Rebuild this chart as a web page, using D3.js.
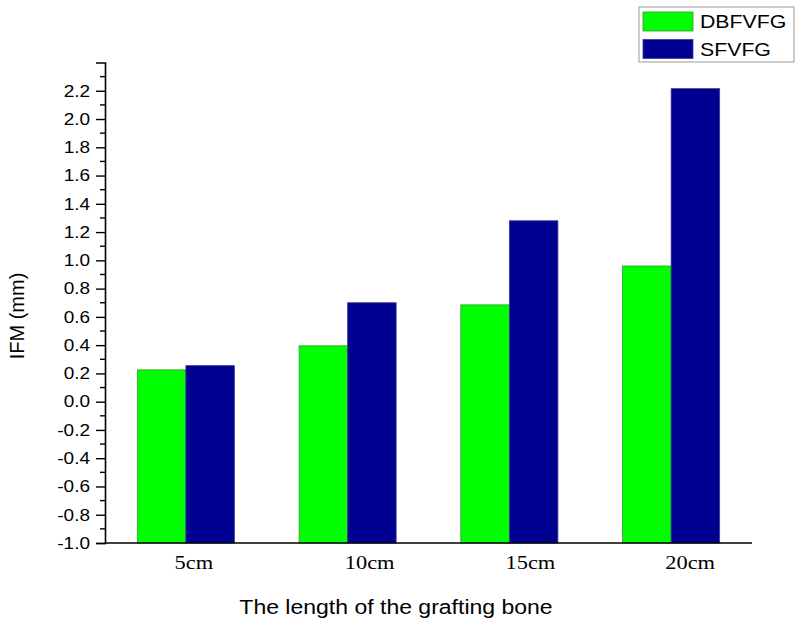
<!DOCTYPE html>
<html>
<head>
<meta charset="utf-8">
<script src="https://cdn.jsdelivr.net/npm/d3@7"></script>
<style>
  html, body { margin: 0; padding: 0; background: #fff; }
  svg { display: block; }
</style>
</head>
<body>
<svg id="chart" width="800" height="626"></svg>
<script>
const categories = ["5cm", "10cm", "15cm", "20cm"];
const seriesNames = ["DBFVFG", "SFVFG"];
const dbfvfg = [0.225, 0.395, 0.685, 0.96];
const sfvfg = [0.255, 0.70, 1.28, 2.215];
const yTicks = [-1.0, -0.8, -0.6, -0.4, -0.2, 0.0, 0.2, 0.4, 0.6, 0.8, 1.0, 1.2, 1.4, 1.6, 1.8, 2.0, 2.2];
const colors = ["#00ff00", "#000090"];
const strokes = ["#2e9a2e", "#3a3a9a"];
// style: horizontal nudges for category labels (as placed in the original)
const labelNudge = [8, 22, 21, 19];
const stretch = 1.15;

const svg = d3.select("#chart");
const mLeft = 105, mRight = 752, mTop = 62.5, mBottom = 543;

function widen(sel, k) {
  sel.each(function () {
    const w = this.getComputedTextLength();
    d3.select(this).attr("textLength", w * k).attr("lengthAdjust", "spacingAndGlyphs");
  });
}

const y = d3.scaleLinear().domain([-1.0, 2.4]).range([mBottom, mTop]);
const x = d3.scaleBand().domain(categories).range([mLeft, mRight]).paddingInner(0.4).paddingOuter(0.2);
const xs = d3.scaleBand().domain(seriesNames).range([0, x.bandwidth()]);

const data = categories.map((c, i) => ({ cat: c, vals: [dbfvfg[i], sfvfg[i]] }));

// bars
const groups = svg.append("g").selectAll("g").data(data).join("g")
  .attr("transform", d => `translate(${x(d.cat)},0)`);
groups.selectAll("rect").data(d => d.vals.map((v, k) => ({ v, k })))
  .join("rect")
  .attr("x", d => xs(seriesNames[d.k]))
  .attr("width", xs.bandwidth())
  .attr("y", d => y(d.v))
  .attr("height", d => y(-1.0) - y(d.v))
  .attr("fill", d => colors[d.k])
  .attr("stroke", d => strokes[d.k])
  .attr("stroke-width", 0.8);

// y axis
const yAxis = d3.axisLeft(y).tickValues(yTicks).tickFormat(d3.format(".1f")).tickSize(9).tickPadding(6);
const gy = svg.append("g").attr("transform", `translate(${mLeft},0)`).call(yAxis);
gy.select(".domain").attr("stroke", "#000").attr("stroke-width", 1.6);
gy.selectAll(".tick line").attr("stroke", "#000").attr("stroke-width", 1.4);
gy.selectAll(".tick text")
  .attr("font-family", "'Liberation Sans', Arial, sans-serif")
  .attr("font-size", 16.5).attr("fill", "#000")
  .text(d => d3.format(".1f")(d).replace("−", "-"))
  .call(widen, 1.15);
// minor ticks
const minor = d3.range(-0.9, 2.35, 0.2).map(v => Math.round(v * 10) / 10);
svg.append("g").selectAll("line").data(minor).join("line")
  .attr("x1", mLeft - 5).attr("x2", mLeft)
  .attr("y1", d => y(d)).attr("y2", d => y(d))
  .attr("stroke", "#000").attr("stroke-width", 1.4);

// x axis
const xAxis = d3.axisBottom(x).tickSize(0).tickPadding(8);
const gx = svg.append("g").attr("transform", `translate(0,${mBottom})`).call(xAxis);
gx.select(".domain").attr("stroke", "#000").attr("stroke-width", 1.6).attr("d", `M${mLeft},0H${mRight}`);
gx.selectAll(".tick text")
  .attr("font-family", "'Liberation Serif', 'Times New Roman', serif")
  .attr("font-size", 19.5).attr("fill", "#000").attr("dy", "0.9em")
  .attr("dx", (d, i) => labelNudge[i])
  .call(widen, stretch);

// axis titles
svg.append("text")
  .attr("x", 396).attr("y", 614)
  .attr("text-anchor", "middle")
  .attr("font-family", "'Liberation Sans', Arial, sans-serif")
  .attr("font-size", 20).attr("fill", "#000")
  .text("The length of the grafting bone")
  .call(widen, stretch);
svg.append("text")
  .attr("transform", "translate(24,316) rotate(-90)")
  .attr("text-anchor", "middle")
  .attr("font-family", "'Liberation Sans', Arial, sans-serif")
  .attr("font-size", 20).attr("fill", "#000")
  .text("IFM (mm)");

// legend
const lg = svg.append("g");
lg.append("rect").attr("x", 639).attr("y", 7).attr("width", 155).attr("height", 55)
  .attr("fill", "#fff").attr("stroke", "#999").attr("stroke-width", 1);
seriesNames.forEach((s, k) => {
  lg.append("rect").attr("x", 643).attr("y", 12 + k * 27.5).attr("width", 50).attr("height", 19)
    .attr("fill", colors[k]).attr("stroke", strokes[k]).attr("stroke-width", 0.8);
  lg.append("text").attr("x", 700).attr("y", 28 + k * 27.5)
    .attr("font-family", "'Liberation Sans', Arial, sans-serif")
    .attr("font-size", 18.5).attr("fill", "#000").text(s)
    .call(widen, stretch);
});
</script>
</body>
</html>
